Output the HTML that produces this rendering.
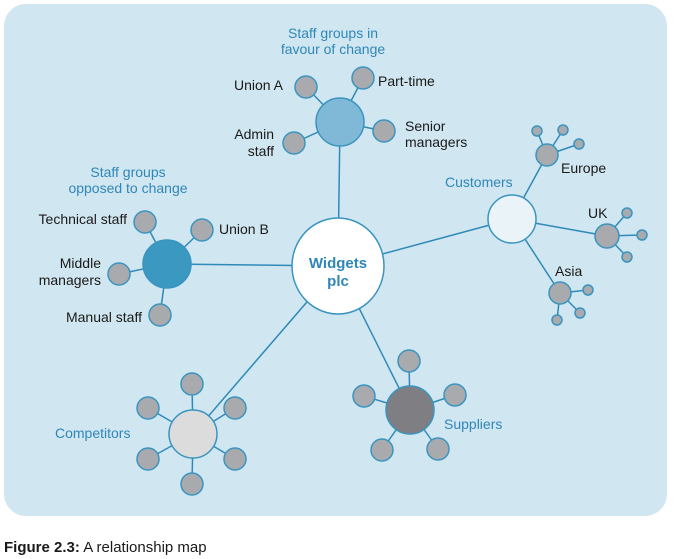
<!DOCTYPE html>
<html><head><meta charset="utf-8"><style>
html,body{margin:0;padding:0;background:#fff;}
svg{display:block;font-family:"Liberation Sans",sans-serif;}
.b{font-size:14px;fill:#1a1a1a;}
.t{font-size:14px;fill:#2f87b9;}
</style></head><body>
<svg width="675" height="559" viewBox="0 0 675 559">
<rect x="4" y="4" width="663" height="512" rx="22" fill="#d0e6f0"/>
<g stroke="#2f8ab9" stroke-width="1.5" fill="none">
<line x1="338" y1="266" x2="340" y2="122"/><line x1="338" y1="266" x2="167" y2="264"/>
<line x1="338" y1="266" x2="512" y2="219"/><line x1="338" y1="266" x2="193" y2="434"/>
<line x1="338" y1="266" x2="410" y2="410"/>
<line x1="340" y1="122" x2="306" y2="87"/><line x1="340" y1="122" x2="363" y2="78"/><line x1="340" y1="122" x2="384" y2="131"/><line x1="340" y1="122" x2="294" y2="143"/>
<line x1="167" y1="264" x2="145" y2="222"/><line x1="167" y1="264" x2="202" y2="230"/><line x1="167" y1="264" x2="119" y2="274"/><line x1="167" y1="264" x2="160" y2="315"/>
<line x1="512" y1="219" x2="547" y2="155"/><line x1="547" y1="155" x2="537" y2="131"/><line x1="547" y1="155" x2="563" y2="130"/><line x1="547" y1="155" x2="579" y2="144"/>
<line x1="512" y1="219" x2="607" y2="236"/><line x1="607" y1="236" x2="627" y2="213"/><line x1="607" y1="236" x2="642" y2="235"/><line x1="607" y1="236" x2="627" y2="257"/>
<line x1="512" y1="219" x2="560" y2="293"/><line x1="560" y1="293" x2="588" y2="290"/><line x1="560" y1="293" x2="580" y2="313"/><line x1="560" y1="293" x2="557" y2="320"/>
<line x1="193" y1="434" x2="192" y2="384"/><line x1="193" y1="434" x2="148" y2="408"/><line x1="193" y1="434" x2="235" y2="408"/><line x1="193" y1="434" x2="148" y2="459"/><line x1="193" y1="434" x2="235" y2="459"/><line x1="193" y1="434" x2="192" y2="484"/>
<line x1="410" y1="410" x2="409" y2="361"/><line x1="410" y1="410" x2="364" y2="396"/><line x1="410" y1="410" x2="455" y2="395"/><line x1="410" y1="410" x2="382" y2="450"/><line x1="410" y1="410" x2="438" y2="449"/>
</g>
<g stroke="#3a94c0" stroke-width="1.5" fill="#a9aaae">
<circle cx="306" cy="87" r="11"/><circle cx="363" cy="78" r="11"/><circle cx="384" cy="131" r="11"/><circle cx="294" cy="143" r="11"/>
<circle cx="145" cy="222" r="11"/><circle cx="202" cy="230" r="11"/><circle cx="119" cy="274" r="11"/><circle cx="160" cy="315" r="11"/>
<circle cx="547" cy="155" r="11"/><circle cx="537" cy="131" r="5"/><circle cx="563" cy="130" r="5"/><circle cx="579" cy="144" r="5"/>
<circle cx="607" cy="236" r="12"/><circle cx="627" cy="213" r="5"/><circle cx="642" cy="235" r="5"/><circle cx="627" cy="257" r="5"/>
<circle cx="560" cy="293" r="11"/><circle cx="588" cy="290" r="5"/><circle cx="580" cy="313" r="5"/><circle cx="557" cy="320" r="5"/>
<circle cx="192" cy="384" r="11"/><circle cx="148" cy="408" r="11"/><circle cx="235" cy="408" r="11"/><circle cx="148" cy="459" r="11"/><circle cx="235" cy="459" r="11"/><circle cx="192" cy="484" r="11"/>
<circle cx="409" cy="361" r="11"/><circle cx="364" cy="396" r="11"/><circle cx="455" cy="395" r="11"/><circle cx="382" cy="450" r="11"/><circle cx="438" cy="449" r="11"/>
<circle cx="340" cy="122" r="24" fill="#80b9d7"/>
<circle cx="167" cy="264" r="24" fill="#3a98c1"/>
<circle cx="512" cy="219" r="24" fill="#e9f3f8"/>
<circle cx="193" cy="434" r="24" fill="#dcdcdd"/>
<circle cx="410" cy="410" r="24" fill="#7f7e83"/>
<ellipse cx="338" cy="266" rx="46" ry="48" fill="#fff"/>
</g>
<text x="338" y="268" text-anchor="middle" font-size="15" font-weight="bold" fill="#2f87b9">Widgets</text>
<text x="338" y="286" text-anchor="middle" font-size="15" font-weight="bold" fill="#2f87b9">plc</text>
<text class="t" x="333" y="38" text-anchor="middle">Staff groups in</text>
<text class="t" x="333" y="54" text-anchor="middle">favour of change</text>
<text class="t" x="128" y="177" text-anchor="middle">Staff groups</text>
<text class="t" x="128" y="193" text-anchor="middle">opposed to change</text>
<text class="t" x="445" y="187">Customers</text>
<text class="t" x="55" y="438">Competitors</text>
<text class="t" x="444" y="429">Suppliers</text>
<text class="b" x="283" y="90" text-anchor="end">Union A</text>
<text class="b" x="378" y="86">Part-time</text>
<text class="b" x="405" y="131">Senior</text>
<text class="b" x="405" y="147">managers</text>
<text class="b" x="274" y="139" text-anchor="end">Admin</text>
<text class="b" x="274" y="156" text-anchor="end">staff</text>
<text class="b" x="127" y="224" text-anchor="end">Technical staff</text>
<text class="b" x="219" y="234">Union B</text>
<text class="b" x="101" y="268" text-anchor="end">Middle</text>
<text class="b" x="101" y="285" text-anchor="end">managers</text>
<text class="b" x="142" y="322" text-anchor="end">Manual staff</text>
<text class="b" x="561" y="173">Europe</text>
<text class="b" x="588" y="218">UK</text>
<text class="b" x="555" y="276">Asia</text>
<text x="4" y="552" font-size="15" fill="#1a1a1a"><tspan font-weight="bold">Figure 2.3:</tspan> A relationship map</text>
</svg>
</body></html>
